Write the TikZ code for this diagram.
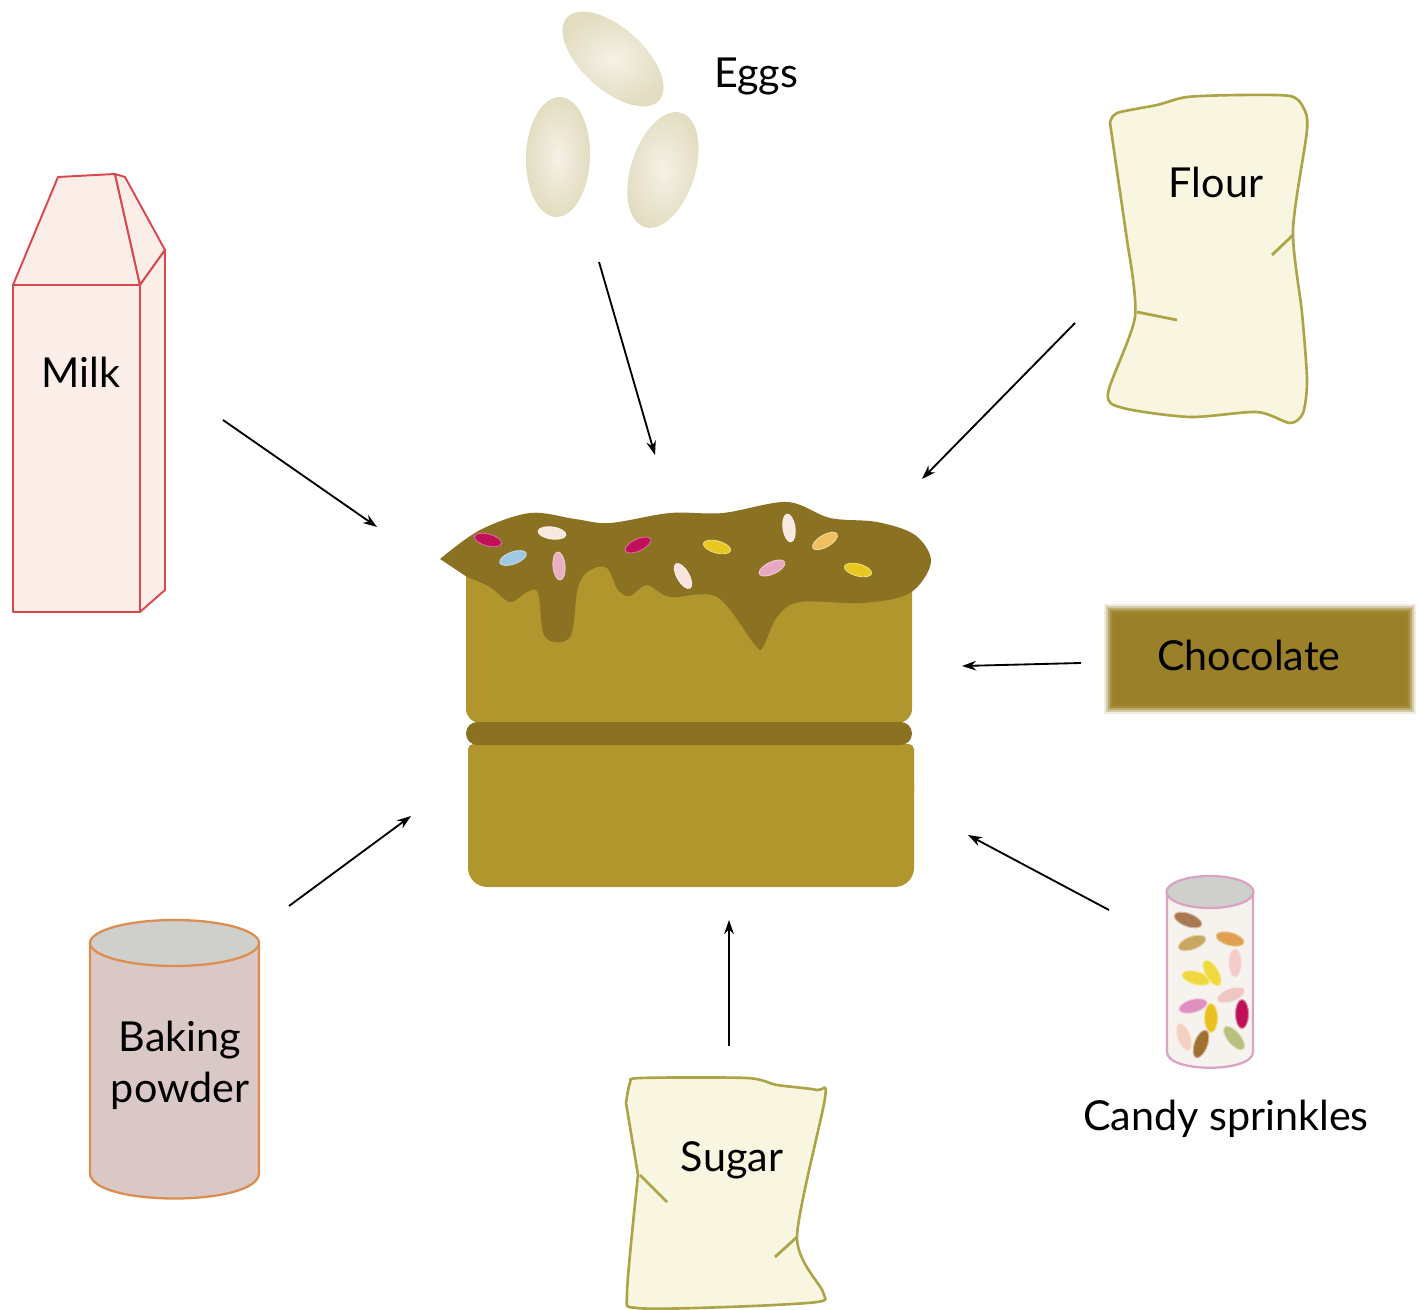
\documentclass[tikz,border=0pt]{standalone}
\usepackage{fontspec}
\setmainfont{Lato}
\usetikzlibrary{arrows.meta}
\definecolor{CakeCol}{HTML}{B0962C}
\definecolor{IcingCol}{HTML}{8B7222}
\definecolor{ChocCol}{HTML}{9A8028}
\definecolor{BagFill}{HTML}{F8F6E0}
\definecolor{BagLine}{HTML}{ABA548}
\definecolor{MilkFill}{HTML}{FBEDE8}
\definecolor{MilkLine}{HTML}{D8484E}
\definecolor{CanFill}{HTML}{D9C8C6}
\definecolor{CanLine}{HTML}{DC8E50}
\definecolor{LidFill}{HTML}{CFCFCB}
\definecolor{JarFill}{HTML}{F6F3EF}
\definecolor{JarLine}{HTML}{D8A4C4}
\definecolor{EggMid}{HTML}{F5F1E6}
\definecolor{EggRim}{HTML}{E2DCC0}
\tikzset{
  label text/.style={font=\fontsize{23.5}{29}\selectfont, align=center, inner sep=0pt},
  bag/.style={draw=BagLine, fill=BagFill, line width=1.5pt},
  crease/.style={draw=BagLine, line width=1.6pt},
  carton/.style={draw=MilkLine, fill=MilkFill, line width=1.1pt, line join=round},
  egg/.style={inner color=EggMid, outer color=EggRim},
  flow/.style={->, line width=1.05pt},
}

\begin{document}
\begin{tikzpicture}[x=0.02cm, y=-0.02cm, >={Stealth[length=8pt,width=5.5pt]}]
        \useasboundingbox (0,0) rectangle (1419,1310);

        % Arrow ends
        \coordinate (MilkOut) at (223,420);
        \coordinate (MilkIn) at (377,527);
        \coordinate (EggsOut) at (599,262);
        \coordinate (EggsIn) at (655,455);
        \coordinate (FlourOut) at (1075,323);
        \coordinate (FlourIn) at (922,479);
        \coordinate (ChocOut) at (1081,663);
        \coordinate (ChocIn) at (962,666);
        \coordinate (CandyOut) at (1109,910);
        \coordinate (CandyIn) at (968,835);
        \coordinate (SugarOut) at (729,1046);
        \coordinate (SugarIn) at (729,920);
        \coordinate (PowderOut) at (289,906);
        \coordinate (PowderIn) at (411,816);

        % Cake
        \fill[CakeCol, rounded corners=3pt] (468,744) rectangle (914,800);
        \fill[CakeCol, rounded corners=11pt] (468,760) rectangle (914,887);
        \fill[CakeCol, rounded corners=8pt] (466,560) rectangle (912,723);
        \fill[IcingCol, rounded corners=6.5pt] (466,722) rectangle (912,745);
        \fill[IcingCol] plot[smooth, tension=0.55] coordinates {(440,559) (480,530) (530,513) (575,519) (610,523) (670,513) (723,513) (787,502) (830,518) (877,522) (915,535) (931,562) (910,593) (863,603) (800,602) (777,617) (763,647) (755,645) (717,597) (670,597) (647,585) (630,596) (618,590) (607,568) (590,570) (578,587) (570,637) (545,637) (538,593) (527,592) (510,602) (490,587) (467,577)} -- cycle;
        \foreach \x/\y/\r/\c in {488/540/-15/C0105A, 552/533/-8/F8E8E0, 513/558/20/A0C8E0, 559/566/-85/E8B0C0, 638/545/25/C0105A, 717/547/-15/E8C820, 683/576/-60/F8E4DC, 789/528/-82/F8E8E0, 825/541/30/F0C060, 772/568/25/E8A8C0, 858/570/-15/E8C820}{
            \definecolor{dot}{HTML}{\c}
            \draw[draw=dot!60!white, fill=dot, line width=0.5pt, shift={(\x,\y)}, rotate=\r] (0,0) ellipse (14 and 6);
        }

        % Milk
        \draw[carton] (13,285) -- (58,177) -- (115,174) -- (140,285) -- cycle;
        \draw[carton] (115,174) -- (125,177) -- (165,250) -- (140,285) -- cycle;
        \draw[carton] (140,285) -- (165,250) -- (165,590) -- (140,612) -- cycle;
        \draw[carton] (13,285) rectangle (140,612);
        \node[label text] (MilkLabel) at (81,372) {Milk};

        % Eggs
        \shade[egg, shift={(613,59)}, rotate=-42] (0,0) ellipse (62 and 31);
        \shade[egg, shift={(558,157)}, rotate=88] (0,0) ellipse (60 and 32);
        \shade[egg, shift={(663,170)}, rotate=72] (0,0) ellipse (60 and 32);
        \node[label text] (EggsLabel) at (756,76) {Eggs};

        % Flour
        \draw[bag] plot[smooth, tension=0.45] coordinates {(1110,123) (1117,113) (1157,105) (1187,97) (1240,95) (1290,96) (1303,107) (1307,130) (1293,230) (1302,313) (1307,380) (1303,413) (1290,423) (1257,412) (1190,417) (1123,408) (1108,393) (1135,317) (1128,247)} -- cycle;
        \draw[crease] (1293,235) -- (1272,255);
        \draw[crease] (1137,312) -- (1177,320);
        \node[label text] (FlourLabel) at (1216,182) {Flour};

        % Chocolate
        \foreach \d/\o in {3/0.15, 1/0.3, -1/0.45, -3/0.65, -5/0.85, -7/1}{
            \fill[ChocCol, opacity=\o] (1107-\d,607-\d) rectangle (1413+\d,711+\d);
        }
        \node[label text] (ChocLabel) at (1249,655) {Chocolate};

        % Candy sprinkles
        \draw[draw=JarLine, fill=JarFill, line width=1.3pt] (1167,892) -- (1167,1052) .. controls (1167,1073) and (1253,1073) .. (1253,1052) -- (1253,892) -- cycle;
        \draw[draw=JarLine, fill=LidFill, line width=1.3pt] (1210,892) ellipse (43.5 and 16);
        \foreach \x/\y/\r/\c in {1188/920/-20/A87850, 1192/943/20/C8A860, 1230/939/-15/E0A050, 1235/963/90/F4CCCC, 1196/978/-15/F0D840, 1212/973/-60/F0D840, 1231/995/20/EEC8C0, 1193/1006/15/E090C0, 1242/1014/90/C0105A, 1211/1018/90/E8C020, 1184/1037/-70/F4D0C0, 1201/1044/70/A07030, 1234/1038/-50/B8C080}{
            \definecolor{dot}{HTML}{\c}
            \draw[draw=dot!50!white, fill=dot, line width=0.6pt, shift={(\x,\y)}, rotate=\r] (0,0) ellipse (14.5 and 6.5);
        }
        \node[label text] (CandyLabel) at (1226,1119) {Candy sprinkles};

        % Sugar
        \draw[bag] plot[smooth, tension=0.45] coordinates {(626,1103) (630,1083) (640,1078) (747,1078) (777,1085) (817,1090) (825,1098) (797,1237) (823,1292) (817,1302) (727,1307) (637,1308) (627,1293) (638,1175)} -- cycle;
        \draw[crease] (640,1175) -- (667,1202);
        \draw[crease] (797,1237) -- (775,1257);
        \node[label text] (SugarLabel) at (732,1160) {Sugar};

        % Baking powder
        \draw[draw=CanLine, fill=CanFill, line width=1.3pt] (90,943) -- (90,1173) .. controls (90,1207) and (259,1207) .. (259,1173) -- (259,943) -- cycle;
        \draw[draw=CanLine, fill=LidFill, line width=1.3pt] (174.5,943) ellipse (84.5 and 23);
        \node[label text] (PowderLabel) at (180,1065) {Baking\\powder};

        % Arrows
        \draw[flow] (MilkOut) -- (MilkIn);
        \draw[flow] (EggsOut) -- (EggsIn);
        \draw[flow] (FlourOut) -- (FlourIn);
        \draw[flow] (ChocOut) -- (ChocIn);
        \draw[flow] (CandyOut) -- (CandyIn);
        \draw[flow] (SugarOut) -- (SugarIn);
        \draw[flow] (PowderOut) -- (PowderIn);
    \end{tikzpicture}
\end{document}
